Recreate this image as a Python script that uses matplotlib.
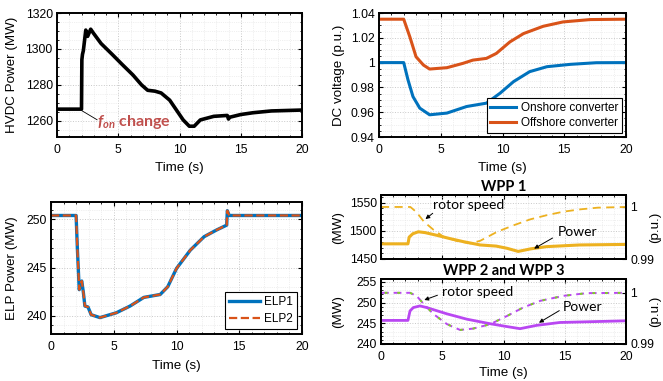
import matplotlib
matplotlib.use("Agg")
import matplotlib.pyplot as plt
from matplotlib.ticker import AutoMinorLocator

plt.rcParams['font.family'] = ['Liberation Sans', 'DejaVu Sans']
plt.rcParams['font.size'] = 8.8
plt.rcParams['axes.labelsize'] = 9.6
plt.rcParams['mathtext.fontset'] = 'custom'
plt.rcParams['mathtext.it'] = 'Lato:italic:bold'
plt.rcParams['mathtext.rm'] = 'Lato:bold'

# ---- data ----
t_hvdc = [0, 2.0, 2.03, 2.08, 2.15, 2.35, 2.5, 2.75, 2.95, 3.6, 4.5, 5.3, 6.2, 6.9, 7.4, 8.0, 8.5,
          9.2, 9.8, 10.3, 10.8, 11.2, 11.7, 12.8, 13.9, 14.0, 14.1, 15.0, 16.0, 17.5, 20]
p_hvdc = [1266.5, 1266.5, 1294, 1297, 1299, 1310.5, 1307, 1311, 1309, 1303, 1297, 1291.5, 1285.5,
          1280, 1277, 1276.5, 1275.5, 1271.5, 1265.5, 1260.5, 1257, 1257, 1260.5, 1262.5, 1263,
          1261, 1262, 1263.5, 1264.5, 1265.5, 1266]

t_on = [0, 2.0, 2.35, 2.75, 3.3, 4.1, 5.5, 7.1, 8.7, 9.8, 10.9, 12.2, 13.6, 15.5, 17.6, 20]
v_on = [1.0, 1.0, 0.986, 0.9726, 0.9633, 0.9579, 0.9593, 0.9646, 0.9673, 0.9753, 0.9847,
        0.9927, 0.9967, 0.9986, 0.9999, 1.0]
t_off = [0, 2.0, 2.5, 3.0, 3.6, 4.1, 5.5, 6.8, 7.6, 8.7, 9.5, 10.6, 11.7, 13.3, 14.9, 17.1, 20]
v_off = [1.035, 1.035, 1.0207, 1.0047, 0.998, 0.9948, 0.9959, 0.9994, 1.002, 1.0034, 1.0074,
         1.0167, 1.0234, 1.0293, 1.0328, 1.0347, 1.035]

t_elp = [0, 2.0, 2.1, 2.25, 2.35, 2.45, 2.58, 2.7, 2.95, 3.2, 3.9, 5.2, 6.3, 7.4, 8.7, 9.3,
         10.0, 11.1, 12.2, 13.2, 14.0, 14.05, 14.2, 20]
elp1 = [250.4, 250.4, 247, 242.7, 243.3, 243.6, 242.4, 241.0, 240.9, 240.1, 239.8, 240.3,
        241.0, 241.9, 242.2, 243.0, 244.9, 246.8, 248.2, 248.9, 249.4, 250.9, 250.4, 250.4]
elp2 = [250.4, 250.4, 247, 242.7, 243.3, 243.6, 242.4, 241.0, 240.9, 240.1, 239.8, 240.3,
        241.0, 241.9, 242.2, 243.0, 244.9, 246.8, 248.2, 248.9, 249.4, 250.9, 250.4, 250.4]

t_w1p = [0, 2.2, 2.3, 2.6, 3.05, 3.6, 4.6, 5.6, 6.7, 8.1, 9.4, 10.3, 11.2, 12.2, 13.5, 16.2, 20]
p_w1 = [1477, 1477, 1489, 1495, 1498.5, 1497, 1492, 1486.5, 1481, 1475, 1473, 1469, 1463.5,
        1468, 1472, 1475, 1476]
t_w1s = [0, 2.4, 2.9, 3.5, 4.3, 5.1, 6.2, 7.3, 8.1, 9.5, 10.9, 12.2, 13.6, 14.9, 16.3, 17.7, 20]
s_w1 = [1.0, 1.0, 0.999, 0.99718, 0.99558, 0.99429, 0.99346, 0.9930, 0.9935, 0.99525, 0.99654,
        0.99763, 0.99846, 0.9991, 0.99955, 0.99987, 1.0]

t_w2p = [0, 2.2, 2.37, 2.64, 3.18, 3.73, 5.36, 7.0, 8.9, 10.3, 11.35, 12.7, 14.6, 17.3, 20]
p_w2 = [245.7, 245.7, 248.0, 248.8, 249.2, 248.8, 247.3, 246.0, 244.9, 244.2, 243.7, 244.5,
        245.2, 245.4, 245.6]
t_w2s = [0, 2.37, 2.9, 3.5, 4.3, 5.4, 6.45, 7.5, 8.9, 10.3, 11.6, 13.0, 14.9, 16.8, 20]
s_w2 = [1.0, 1.0, 0.99941, 0.99778, 0.99582, 0.99386, 0.99275, 0.993, 0.99386, 0.99549,
        0.99712, 0.99843, 0.99941, 0.99994, 1.0]

blue = '#0072BD'
orange = '#D95319'
yellow = '#EDB120'
purple = '#B947F2'
green = '#7ED321'

W, H = 663, 381
fig = plt.figure(figsize=(W / 100, H / 100), dpi=100)


def px(l, t, r, b):
    return [l / W, 1 - b / H, (r - l) / W, (b - t) / H]


def style(ax, right=True):
    ax.set_xlim(0, 20)
    ax.set_xticks([0, 5, 10, 15, 20])
    ax.xaxis.set_minor_locator(AutoMinorLocator())
    ax.yaxis.set_minor_locator(AutoMinorLocator())
    ax.tick_params(which='both', direction='in', top=True, right=right, pad=3)
    ax.tick_params(axis='x', which='major', pad=5)
    ax.tick_params(which='major', length=3, width=0.8)
    ax.tick_params(which='minor', length=1.6, width=0.6)
    ax.grid(True, which='major', color='#c8c8c8', ls=':', lw=0.7)
    ax.grid(True, which='minor', color='#e2e2e2', ls=':', lw=0.5)
    for s in ax.spines.values():
        s.set_linewidth(1.4)


def ylab(ax, text, x):
    ax.set_ylabel(text)
    ax.yaxis.label.set_va('center')
    ax.yaxis.label.set_ha('center')
    ax.yaxis.set_label_coords(x, 0.5)


# HVDC power
ax1 = fig.add_axes(px(57, 13, 302, 137))
ax1.plot(t_hvdc, p_hvdc, color='black', lw=2.6)
ax1.set_ylim(1251, 1320)
ax1.set_yticks([1260, 1280, 1300, 1320])
style(ax1)
ylab(ax1, 'HVDC Power (MW)', -0.184)
ax1.set_xlabel('Time (s)', va='top')
ax1.xaxis.set_label_coords(0.5, -0.2)
ax1.plot([2.04, 3.27], [1265.6, 1260.6], color='black', lw=0.6)
ax1.text(3.3, 1259.3, r'$f_{on}$ change', color='#C0504D', fontsize=11.5,
         family='Lato', weight='bold', ha='left', va='center')

# DC voltage
ax2 = fig.add_axes(px(379, 13, 626, 137))
ax2.plot(t_on, v_on, color=blue, lw=2.2, label='Onshore converter')
ax2.plot(t_off, v_off, color=orange, lw=2.2, label='Offshore converter')
ax2.set_ylim(0.94, 1.04)
ax2.set_yticks([0.94, 0.96, 0.98, 1.0, 1.02, 1.04])
ax2.set_yticklabels(['0.94', '0.96', '0.98', '1', '1.02', '1.04'])
style(ax2)
ylab(ax2, 'DC voltage (p.u.)', -0.162)
ax2.set_xlabel('Time (s)', va='top')
ax2.xaxis.set_label_coords(0.5, -0.2)
leg = ax2.legend(loc='lower right', fontsize=8.5, fancybox=False, edgecolor='black',
                 framealpha=1, borderaxespad=0.35, handlelength=2.2, labelspacing=0.3,
                 borderpad=0.3, handletextpad=0.4)
leg.get_frame().set_linewidth(0.8)

# ELP power
ax3 = fig.add_axes(px(51, 202, 302, 334))
ax3.plot(t_elp, elp1, color=blue, lw=2.4, label='ELP1')
ax3.plot(t_elp, elp2, color=orange, lw=1.6, ls='--', label='ELP2')
ax3.set_ylim(238.1, 251.8)
ax3.set_yticks([240, 245, 250])
style(ax3)
ylab(ax3, 'ELP Power (MW)', -0.155)
ax3.set_xlabel('Time (s)', va='top')
ax3.xaxis.set_label_coords(0.5, -0.2)
leg = ax3.legend(loc='lower right', fontsize=8.5, fancybox=False, edgecolor='black',
                 framealpha=1, borderaxespad=0.4, handlelength=2.6, labelspacing=0.45,
                 borderpad=0.35, handletextpad=0.4)
leg.get_frame().set_linewidth(0.8)

# WPP 1
ax4 = fig.add_axes(px(381, 195, 626, 259))
ax4.plot(t_w1p, p_w1, color=yellow, lw=2.2)
ax4.set_ylim(1450, 1564)
ax4.set_yticks([1450, 1500, 1550])
style(ax4, right=False)
ax4.set_xticklabels([])
ylab(ax4, '(MW)', -0.176)
ax4r = ax4.twinx()
ax4r.plot(t_w1s, s_w1, color=yellow, lw=1.3, ls=(0, (4.5, 3)))
ax4r.set_ylim(0.99, 1.0023)
ax4r.set_yticks([0.99, 1.0])
ax4r.set_yticklabels(['0.99', '1'])
ax4r.tick_params(which='both', direction='in', pad=3, length=3)
ylab(ax4r, '(p.u.)', 1.12)
ax4.set_title('WPP 1', family='Lato', weight='bold', fontsize=10.5, pad=3)
for s in ax4r.spines.values():
    s.set_linewidth(1.4)
ax4.text(4.25, 1546, 'rotor speed', family='Lato', fontsize=10, ha='left', va='center')
ax4.annotate('', xy=(3.45, 1518), xytext=(4.4, 1534.5),
             arrowprops=dict(arrowstyle='-|>', color='black', lw=0.7, mutation_scale=6))
ax4.text(14.45, 1498, 'Power', family='Lato', fontsize=10, ha='left', va='center')
ax4.annotate('', xy=(12.3, 1466), xytext=(14.2, 1489.8),
             arrowprops=dict(arrowstyle='-|>', color='black', lw=0.7, mutation_scale=6))

# WPP 2 and WPP 3
ax5 = fig.add_axes(px(381, 279, 626, 344))
ax5.plot(t_w2p, p_w2, color=purple, lw=2.0)
ax5.set_ylim(240, 255.7)
ax5.set_yticks([240, 245, 250, 255])
style(ax5, right=False)
ylab(ax5, '(MW)', -0.176)
ax5.set_xlabel('Time (s)', va='top')
ax5.xaxis.set_label_coords(0.5, -0.36)
ax5r = ax5.twinx()
ax5r.plot(t_w2s, s_w2, color=purple, lw=1.4, ls=(0, (4, 2.5)))
ax5r.plot(t_w2s, s_w2, color=green, lw=1.4, ls=(4.6, (1.4, 5.1)))
ax5r.set_ylim(0.99, 1.0027)
ax5r.set_yticks([0.99, 1.0])
ax5r.set_yticklabels(['0.99', '1'])
ax5r.tick_params(which='both', direction='in', pad=3, length=3)
ylab(ax5r, '(p.u.)', 1.12)
ax5.set_title('WPP 2 and WPP 3', family='Lato', weight='bold', fontsize=10.5, pad=3)
for s in ax5r.spines.values():
    s.set_linewidth(1.4)
ax5.text(4.98, 252.6, 'rotor speed', family='Lato', fontsize=10, ha='left', va='center')
ax5.annotate('', xy=(3.32, 250.4), xytext=(4.82, 252.0),
             arrowprops=dict(arrowstyle='-|>', color='black', lw=0.7, mutation_scale=6))
ax5.text(14.86, 249.0, 'Power', family='Lato', fontsize=10, ha='left', va='center')
ax5.annotate('', xy=(12.7, 244.8), xytext=(14.75, 248.4),
             arrowprops=dict(arrowstyle='-|>', color='black', lw=0.7, mutation_scale=6))

fig.savefig('out.png', dpi=100)
